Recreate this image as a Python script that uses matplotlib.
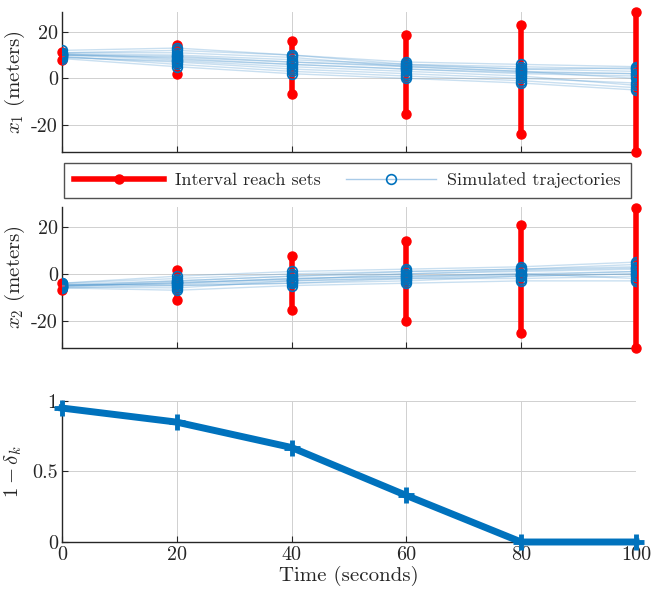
import numpy as np
import matplotlib
matplotlib.use("Agg")
import matplotlib.pyplot as plt
from matplotlib.lines import Line2D

plt.rcParams['font.family'] = 'serif'
plt.rcParams['font.serif'] = ['cmr10', 'DejaVu Serif']
plt.rcParams['mathtext.fontset'] = 'cm'
plt.rcParams['axes.unicode_minus'] = False
plt.rcParams['axes.formatter.use_mathtext'] = True

# tempos (segundos)
t = [0, 20, 40, 60, 80, 100]

# conjuntos de alcance por intervalo (limite inferior / superior)
x1_lo = [8.0, 1.7, -6.9, -15.4, -23.7, -31.5]
x1_hi = [11.5, 14.3, 16.2, 18.7, 23.0, 28.5]
x2_lo = [-7.0, -11.0, -15.3, -20.2, -25.4, -31.6]
x2_hi = [-4.0, 1.5, 7.5, 14.0, 21.0, 28.2]

# trajetorias simuladas
x1_traj = [
    [10, 9, 7, 5, 3, 2],
    [11, 12, 10, 6, 5, 4],
    [9, 7, 4, 2, 0, -2],
    [10.5, 10, 8, 6, 4, 3],
    [9.5, 6, 3, 1, -1, -4],
    [10, 8, 6, 4, 2, 1],
    [11, 11, 9, 5, 3, 0],
    [8.5, 5, 2, 0, -2, -5],
    [10, 9.5, 7, 5.5, 4, 4.5],
    [12, 13, 10, 7, 6, 5],
    [9, 7.5, 5, 3, 1, -3],
    [10.5, 8.5, 6, 4, 2.5, 2],
]
x2_traj = [
    [-5, -4, -2, -1, 0, 1],
    [-4, -2, 0, 1, 2, 4],
    [-6, -7, -5, -4, -3, -3],
    [-5, -3, -1, 0, 1, 2],
    [-4.5, -5, -4, -2, -1, 0],
    [-5.5, -6, -3, -2, -2, -1],
    [-4, -1, 1, 2, 3, 5],
    [-5, -4, -2, -1, 0, -2],
    [-6, -5, -4, -3, -1, 0],
    [-4.5, -3, -1, 1, 2, 3],
    [-5, -4.5, -3, -1.5, -0.5, 1],
    [-5.5, -3.5, -2.5, 0, 1.5, 2.5],
]

# probabilidade 1 - delta_k
prob = [0.95, 0.85, 0.67, 0.33, 0.0, 0.0]

azul = '#0072BD'
vermelho = '#FF0000'
cinza = '#262626'

fig = plt.figure(figsize=(6.62, 5.91), dpi=100)
ax1 = fig.add_axes([0.0937, 0.7428, 0.867, 0.237])
ax2 = fig.add_axes([0.0937, 0.4112, 0.867, 0.2386])
ax3 = fig.add_axes([0.0937, 0.0829, 0.867, 0.2386])


def estilo(ax):
    for s in ['top', 'right']:
        ax.spines[s].set_visible(False)
    for s in ['left', 'bottom']:
        ax.spines[s].set_color(cinza)
        ax.spines[s].set_linewidth(1.0)
    ax.grid(True, color='#d0d0d0', lw=0.7)
    ax.set_axisbelow(True)
    ax.tick_params(direction='in', length=4, colors=cinza, labelsize=14.5,
                   labelcolor=cinza, pad=3)
    ax.set_xlim(0, 100)
    ax.set_xticks(t)


for ax, lo, hi, traj, nome in [(ax1, x1_lo, x1_hi, x1_traj, r'$x_1$ (meters)'),
                               (ax2, x2_lo, x2_hi, x2_traj, r'$x_2$ (meters)')]:
    estilo(ax)
    for i in range(len(t)):
        ax.plot([t[i], t[i]], [lo[i], hi[i]], '-o', color=vermelho, lw=4,
                ms=6.5, clip_on=False, zorder=3)
    for tr in traj:
        ax.plot(t, tr, '-', color='#4f97cf', lw=1, alpha=0.3, zorder=4)
        ax.plot(t, tr, 'o', mfc='none', mec=azul, ms=7, mew=1.2, zorder=5)
    ax.set_ylim(-31.6, 28.5)
    ax.set_yticks([-20, 0, 20])
    ax.set_yticklabels(['-20', '0', '20'])
    ax.set_xticklabels([])
    ax.set_ylabel(nome, fontsize=15, color=cinza, labelpad=3)

estilo(ax3)
ax3.plot(t, prob, '-+', color=azul, lw=5, ms=11, mew=3.5, clip_on=False, zorder=3)
ax3.set_ylim(0, 1)
ax3.set_yticks([0, 0.5, 1])
ax3.set_yticklabels(['0', '0.5', '1'])
ax3.set_xticklabels([str(v) for v in t])
ax3.set_xlabel('Time (seconds)', fontsize=15, color=cinza, labelpad=1)
ax3.set_ylabel(r'$1-\delta_k$', fontsize=15, color=cinza, labelpad=6)

alcance = Line2D([], [], color=vermelho, lw=4, marker='o', ms=6.5,
                 markevery=[1], label='Interval reach sets')
simulado = Line2D([], [], color='#a9cbe8', lw=1, marker='o', mfc='none',
                  mec=azul, ms=7, mew=1.2, markevery=[1],
                  label='Simulated trajectories')
leg = fig.legend(handles=[alcance, simulado], loc='center',
                 bbox_to_anchor=(0.5245, 0.6945), ncol=2, fontsize=13,
                 handlelength=5.0, handletextpad=0.6, columnspacing=1.4,
                 frameon=True, fancybox=False, edgecolor=cinza,
                 borderpad=0.55, borderaxespad=0)
leg.get_frame().set_linewidth(1.0)
for tx in leg.get_texts():
    tx.set_color(cinza)

fig.savefig('out.png', dpi=100)
